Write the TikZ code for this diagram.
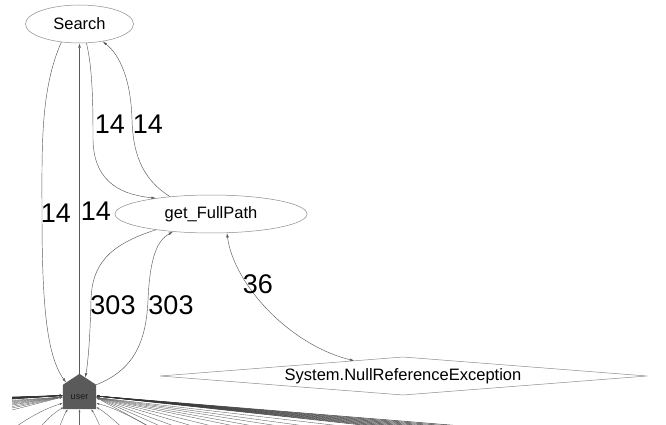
\documentclass[tikz,border=0pt]{standalone}
\usepackage{fontspec}
\setmainfont{Liberation Sans}
\usetikzlibrary{arrows.meta,calc,shapes.geometric}
\definecolor{housegray}{HTML}{5A5A5A}
\begin{document}
\begin{tikzpicture}[x=1pt,y=-1pt,
  edge/.style={draw=black!65, line width=0.45pt},
  tip/.style={-{Latex[length=4.5pt,width=2.6pt]}},
  bothtips/.style={{Latex[length=4.5pt,width=2.6pt]}-{Latex[length=4.5pt,width=2.6pt]}},
  nodeline/.style={draw=black!45, line width=0.5pt},
  lbl/.style={font=\fontsize{27}{29}\selectfont, text=black, inner sep=0pt},
  oval/.style={ellipse, nodeline, fill=white, inner sep=0pt, font=\fontsize{16.5}{18}\selectfont},
  fandark/.style={draw=black!80, line width=0.5pt, -{Latex[length=3pt,width=2pt]}},
  fanlight/.style={draw=black!60, line width=0.4pt, -{Latex[length=3pt,width=2pt]}},
]
\useasboundingbox (0,0) rectangle (666,425);

% method nodes
\node[oval, minimum width=108pt, minimum height=38pt] (search) at (79.5,24) {Search};
\node[oval, minimum width=192pt, minimum height=38pt] (path) at (211,214) {get\_FullPath};

% exception node (flat diamond)
\node[inner sep=0pt, font=\fontsize{16.5}{18}\selectfont] (exc) at (403,376) {System.NullReferenceException};
\coordinate (exc-w) at ($(exc.center)+(-243,0)$);
\coordinate (exc-n) at ($(exc.center)+(0,-19)$);
\coordinate (exc-e) at ($(exc.center)+(244,0)$);
\coordinate (exc-s) at ($(exc.center)+(0,19)$);
\draw[nodeline] (exc-w) -- (exc-n) -- (exc-e) -- (exc-s) -- cycle;
\coordinate (exc-in) at ($(exc-w)!0.8!(exc-n)$);

% user node (house shape): body as the node, roof added on top
\node[fill=housegray, minimum width=33pt, minimum height=24pt, inner sep=0pt,
      font=\fontsize{9}{10}\selectfont] (user) at (79.5,397) {user};
\coordinate (user-peak) at ($(user.north)+(0,-11)$);
\coordinate (user-rl) at ($(user.north west)!0.2!(user-peak)$);
\coordinate (user-rr) at ($(user-peak)!0.35!(user.north east)$);
\coordinate (user-lw) at ($(user.west)+(0,-1.5)$);
\coordinate (user-re) at ($(user.east)+(0,-1)$);

% fan of edges from nodes outside the view
\begin{scope}
  \clip (12,0) rectangle (666,425);
  \foreach \s [count=\i] in {0.03,0.034,0.038,0.042,0.046,0.05,0.054,0.058,0.062,0.066,0.07}
    {\coordinate (fl\i) at ($(user-lw)+(-110,110*\s)$);
     \draw[fandark] (fl\i) -- (user-lw);}
  \foreach \s [count=\i] in {0.08,0.095,0.11,0.13,0.15,0.17,0.2,0.23,0.27}
    {\coordinate (gl\i) at ($(user-lw)+(-110,110*\s)$);
     \draw[fanlight] (gl\i) -- ($(user-lw)+(0,1.5)$);}
  \foreach \s [count=\i] in {0.082,0.085,0.088,0.091,0.094,0.097,0.1,0.103,0.106,0.109}
    {\coordinate (fr\i) at ($(user-re)+(600,600*\s)$);
     \draw[fandark] (fr\i) -- (user-re);}
  \foreach \s [count=\i] in {0.12,0.14,0.16,0.185,0.21,0.25,0.3,0.37,0.45,0.55}
    {\coordinate (gr\i) at ($(user-re)+(400,400*\s)$);
     \draw[fanlight] (gr\i) -- ($(user-re)+(0,1.5)$);}
  \coordinate (b1) at (5,435);
  \coordinate (b2) at (30,440);
  \coordinate (b3) at (55,440);
  \coordinate (b4) at (79.5,440);
  \coordinate (b5) at (105,440);
  \coordinate (b6) at (135,440);
  \coordinate (b7) at (170,440);
  \draw[fanlight] (b1) .. controls (30,415) and (50,407) .. ($(user.south west)+(0,-6)$);
  \draw[fanlight] (b2) .. controls (45,420) and (55,412) .. ($(user.south west)+(1,-2)$);
  \draw[fanlight] (b3) .. controls (60,425) and (64,415) .. ($(user.south west)+(5,0)$);
  \draw[fanlight] (b4) -- (user.south);
  \draw[fanlight] (b5) .. controls (100,425) and (95,415) .. ($(user.south east)+(-5,0)$);
  \draw[fanlight] (b6) .. controls (120,425) and (105,412) .. ($(user.south east)+(0,-2)$);
  \draw[fanlight] (b7) .. controls (140,420) and (115,408) .. ($(user.south east)+(0,-6)$);
\end{scope}

% redraw user node above the fan
\fill[housegray] (user.south west) -- (user.north west) -- (user-peak) -- (user.north east) -- (user.south east) -- cycle;
\node[inner sep=0pt, font=\fontsize{9}{10}\selectfont, text=black!90] at (user.center) {user};

% call edges
\draw[edge,tip] (search.225) .. controls (40,90) and (42,150) .. (42,213)
                .. controls (42,300) and (46,355) .. (user-rl);
\draw[edge,tip] (user-peak) -- (search.270);
\draw[edge,tip] (search.290) .. controls (93,70) and (93,110) .. (93,140)
                .. controls (94,185) and (125,195) .. (path.164);
\draw[edge,tip] (path.157) .. controls (140,178) and (133,150) .. (132,120)
                .. controls (131,80) and (120,55) .. (search.323);
\draw[edge,tip] (path.196) .. controls (108,245) and (92,265) .. (91,300)
                .. controls (90,340) and (88,362) .. (user-rr);
\draw[edge,tip] (user.north east) .. controls (128,372) and (146,350) .. (148,300)
                .. controls (150,255) and (158,240) .. (path.205);
\draw[edge,bothtips] (exc-in) .. controls (290,345) and (234,285) .. (path.310);

% edge counts
\node[lbl] (c1) at (56,213) {14};
\node[lbl] (c2) at (96,211) {14};
\node[lbl] (c3) at (110,124) {14};
\node[lbl] (c4) at (148,124) {14};
\node[lbl] (c5) at (113,305) {303};
\node[lbl] (c6) at (171,305) {303};
\node[lbl] (c7) at (258,284) {36};
\end{tikzpicture}
\end{document}
